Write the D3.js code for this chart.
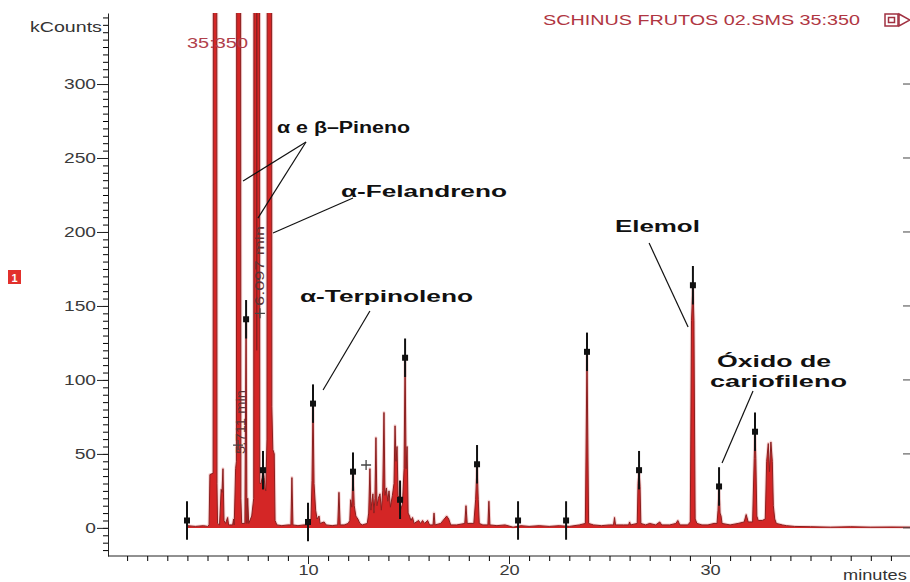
<!DOCTYPE html>
<html>
<head>
<meta charset="utf-8">
<script src="https://cdn.jsdelivr.net/npm/d3@7"></script>
<style>
  body { margin: 0; background: #fff; }
  text { font-family: "Liberation Sans", Arial, sans-serif; }
</style>
</head>
<body>
<script>
// chromatogram trace: [minutes, kCounts]
// off-scale peaks (above 348) get a big guessed apex
const trace = [
  [4.0,1.5],[4.4,1],[4.8,1.5],[5.0,1],[5.08,2],[5.12,36],[5.28,37],[5.39,3000],[5.47,30],[5.5,3],
  [5.6,2],[5.68,26],[5.72,24],[5.77,40],[5.82,5],[5.9,3],[6.0,7],[6.05,2],[6.25,2],[6.3,6],[6.33,2],
  [6.4,40],[6.44,45],[6.55,3000],[6.66,20],[6.7,3],[6.86,3],[6.92,141],[6.96,3],[7.0,20],[7.05,3],
  [7.2,8],[7.3,20],[7.38,3000],[7.45,120],[7.52,3000],[7.6,30],[7.66,30],[7.72,34],[7.76,40],
  [7.82,34],[7.86,27],[7.9,25],[7.96,60],[8.08,3000],[8.2,82],[8.25,53],[8.32,50],[8.36,5],[8.45,2],
  [8.7,1.5],[9.0,2],[9.15,2],[9.2,34],[9.25,2],[9.5,1.5],[9.8,2],[10.05,2],[10.15,6],[10.2,32],
  [10.25,84],[10.3,30],[10.38,12],[10.45,6],[10.55,8],[10.6,3],[10.8,4],[10.9,2],[11.2,1.5],
  [11.48,2],[11.54,24],[11.6,2],[11.8,2],[12.0,3],[12.08,5],[12.12,19],[12.18,14],[12.24,38],
  [12.3,15],[12.38,8],[12.48,6],[12.58,3],[12.7,2],[12.95,3],[13.02,10],[13.08,40],[13.13,12],
  [13.18,18],[13.23,23],[13.28,10],[13.33,20],[13.38,61],[13.43,15],[13.5,20],[13.58,23],[13.65,12],
  [13.72,25],[13.78,78],[13.83,22],[13.9,27],[13.97,18],[14.03,25],[14.1,14],[14.2,22],[14.28,30],
  [14.33,69],[14.38,45],[14.43,55],[14.48,22],[14.55,20],[14.6,12],[14.7,16],[14.78,40],[14.83,115],
  [14.88,40],[14.93,55],[14.98,10],[15.05,8],[15.12,5],[15.2,7],[15.28,3],[15.5,5],[15.6,3],
  [15.7,5],[15.8,3],[15.95,5],[16.05,2],[16.22,2],[16.27,10],[16.32,2],[16.6,3],[16.9,8],[17.0,6],
  [17.1,2],[17.4,2],[17.8,3],[17.86,15],[17.92,3],[18.25,3],[18.34,19],[18.41,43],[18.47,19],
  [18.52,3],[18.7,2],[18.95,2],[19.0,18],[19.05,2],[19.4,1.5],[19.8,2],[20.2,0.5],[20.6,1.5],
  [21.0,1],[21.5,1.5],[22.0,1],[22.5,1.5],[23.0,1],[23.5,2],[23.8,3],[23.88,119],[23.96,3],
  [24.2,2],[24.6,1.5],[25.0,2],[25.2,2],[25.25,7],[25.3,2],[25.7,2],[25.95,2],[26.0,4],[26.05,2],
  [26.38,3],[26.42,30],[26.47,39],[26.52,28],[26.56,3],[26.8,2],[27.0,3],[27.3,2],[27.5,4],[27.6,2],
  [28.0,2],[28.3,3],[28.4,5],[28.5,2],[28.9,2],[29.02,4],[29.08,140],[29.15,164],[29.2,140],
  [29.26,6],[29.35,3],[29.6,2],[29.9,2],[30.2,3],[30.35,3],[30.4,12],[30.45,28],[30.5,10],
  [30.55,8],[30.6,3],[31.0,2],[31.4,3],[31.7,4],[31.8,9],[31.9,4],[32.12,4],[32.2,47],[32.24,65],
  [32.28,47],[32.33,8],[32.4,5],[32.6,5],[32.75,6],[32.82,45],[32.9,57],[32.96,38],[33.03,58],
  [33.1,45],[33.15,15],[33.22,6],[33.3,3],[33.6,2],[33.8,1.5],[34.2,1],[35,0.8],[36,0.5],
  [37,0.8],[38,0.5],[39,0.6],[40,0.5]
];

// identified peaks (black square + error bar)
const markerTimes  = [3.98, 6.92, 7.76, 10.0, 10.25, 12.24, 14.58, 14.83, 18.41, 20.45, 22.84, 23.88, 26.47, 29.15, 30.45, 32.24];
const markerCounts = [5, 141, 39, 4, 84, 38, 19, 115, 43, 5, 5, 119, 39, 164, 28, 65];

// crosshair marks
const crossTimes  = [6.52, 7.61, 12.89];
const crossCounts = [56, 145, 42.5];

// rotated retention-time labels
const rtLabels = ["5.711 min", "6.097 min"];

const yMajor = [0, 50, 100, 150, 200, 250, 300];
const xMajor = [10, 20, 30];

// compound labels
const compounds = ["α e β–Pineno", "α-Felandreno", "α-Terpinoleno", "Elemol", "Óxido de", "cariofileno"];

const svg = d3.select("body").append("svg")
    .attr("width", 910)
    .attr("height", 582);

const x = d3.scaleLinear().domain([0, 40]).range([107, 911]);
const y = d3.scaleLinear().domain([-19, 348]).range([556, 13]);

// stretch text horizontally like the picture (it was widened)
function stretch(sel, k) {
  sel.each(function () {
    const w = this.getComputedTextLength();
    d3.select(this).attr("textLength", w * k).attr("lengthAdjust", "spacingAndGlyphs");
  });
}

svg.append("clipPath").attr("id", "plot")
  .append("rect").attr("x", 108).attr("y", 13).attr("width", 803).attr("height", 543);

const plot = svg.append("g").attr("clip-path", "url(#plot)");

const line = d3.line().x(d => x(d[0])).y(d => y(d[1]));
const area = d3.area().x(d => x(d[0])).y0(y(0)).y1(d => y(d[1]));

// pale halo
plot.append("path")
    .attr("d", line(trace))
    .attr("fill", "none")
    .attr("stroke", "#f6d2d2")
    .attr("stroke-width", 3)
    .attr("stroke-linejoin", "round");

plot.append("path")
    .attr("d", area(trace))
    .attr("fill", "#d42626");

plot.append("path")
    .attr("d", line(trace))
    .attr("fill", "none")
    .attr("stroke", "#8a1f1f")
    .attr("stroke-width", 1);

// error bars + squares
markerTimes.forEach((t, i) => {
  plot.append("line")
      .attr("x1", x(t)).attr("x2", x(t))
      .attr("y1", y(markerCounts[i] - 13)).attr("y2", y(markerCounts[i] + 13))
      .attr("stroke", "#111").attr("stroke-width", 2);
  plot.append("rect")
      .attr("x", x(t) - 3).attr("y", y(markerCounts[i]) - 3)
      .attr("width", 6).attr("height", 6)
      .attr("fill", "#111");
});

crossTimes.forEach((t, i) => {
  const cx = x(t), cy = y(crossCounts[i]);
  plot.append("path")
      .attr("d", `M${cx - 5},${cy}H${cx + 5}M${cx},${cy - 5}V${cy + 5}`)
      .attr("stroke", "#444").attr("stroke-width", 1.3);
});

// rotated retention times next to the first two crosshairs
[[x(6.85), y(50), 64], [x(7.81), y(150), 80]].forEach((p, i) => {
  plot.append("text")
      .attr("transform", `translate(${p[0]},${p[1]}) rotate(-90)`)
      .attr("font-size", 12)
      .attr("fill", "#5a3434")
      .attr("textLength", p[2])
      .attr("lengthAdjust", "spacingAndGlyphs")
      .text(rtLabels[i]);
});

// y axis
svg.append("g")
    .attr("transform", "translate(108,0)")
    .call(d3.axisLeft(y).tickValues(d3.range(-15, 346, 5)).tickSize(5).tickSizeOuter(0).tickFormat(""))
    .call(g => g.select(".domain").attr("stroke", "#222"));

const yAx = svg.append("g")
    .attr("transform", "translate(108,0)")
    .call(d3.axisLeft(y).tickValues(yMajor).tickSize(11).tickSizeOuter(0).tickPadding(1));
yAx.select(".domain").remove();
yAx.selectAll("line").attr("stroke", "#222");
yAx.selectAll("text").attr("font-size", 14).attr("fill", "#3a3a3a")
    .attr("font-family", "Liberation Sans, Arial, sans-serif");
stretch(yAx.selectAll("text"), 1.37);

// right side ticks
svg.append("g").selectAll("line")
    .data(yMajor).join("line")
    .attr("x1", 903).attr("x2", 910)
    .attr("y1", d => y(d)).attr("y2", d => y(d))
    .attr("stroke", "#444");

// x axis
svg.append("g")
    .attr("transform", "translate(0,556)")
    .call(d3.axisBottom(x).tickValues(d3.range(1, 40)).tickSize(5).tickSizeOuter(0).tickFormat(""))
    .call(g => g.select(".domain").attr("stroke", "#222").attr("d", "M108,0H910"));

const xAx = svg.append("g")
    .attr("transform", "translate(0,556)")
    .call(d3.axisBottom(x).tickValues(xMajor).tickSize(8).tickSizeOuter(0).tickPadding(1));
xAx.select(".domain").remove();
xAx.selectAll("line").attr("stroke", "#222");
xAx.selectAll("text").attr("font-size", 14).attr("fill", "#3a3a3a")
    .attr("font-family", "Liberation Sans, Arial, sans-serif");
stretch(xAx.selectAll("text"), 1.3);

stretch(svg.append("text").attr("x", 843).attr("y", 580)
    .attr("font-size", 14).attr("fill", "#333").text("minutes"), 1.3);

stretch(svg.append("text").attr("x", 30).attr("y", 32)
    .attr("font-size", 14).attr("fill", "#333").text("kCounts"), 1.4);

// header
svg.append("text").attr("x", 543).attr("y", 25)
    .attr("font-size", 14).attr("fill", "#b03642")
    .attr("textLength", 317).attr("lengthAdjust", "spacingAndGlyphs")
    .text("SCHINUS FRUTOS 02.SMS 35:350");

svg.append("text").attr("x", 187).attr("y", 48)
    .attr("font-size", 14).attr("fill", "#b0404c")
    .attr("textLength", 61).attr("lengthAdjust", "spacingAndGlyphs")
    .text("35:350");

const icon = svg.append("g").attr("fill", "none").attr("stroke", "#a03040").attr("stroke-width", 1.5);
icon.append("rect").attr("x", 885).attr("y", 14).attr("width", 13).attr("height", 12);
icon.append("rect").attr("x", 888.5).attr("y", 17.5).attr("width", 6).attr("height", 5);
icon.append("path").attr("d", "M899,14L910,20L899,26Z");

// little red "1" box
svg.append("rect").attr("x", 8).attr("y", 270).attr("width", 13).attr("height", 14).attr("fill", "#e2302c");
svg.append("text").attr("x", 14.5).attr("y", 281.5).attr("text-anchor", "middle")
    .attr("font-size", 11).attr("font-weight", "bold").attr("fill", "#fff").text("1");

// compound annotations, positioned in data units
const notes = [
  {t: 8.46, v: 267, w: 133, lines: [[9.9, 260.8, 6.77, 234.4], [9.9, 260.8, 7.51, 209.4]]},
  {t: 11.64, v: 223.6, w: 166, lines: [[12.24, 223, 8.26, 199.3]]},
  {t: 9.6, v: 152.7, w: 173, lines: [[13.08, 146.6, 10.75, 93.2]]},
  {t: 25.27, v: 200, w: 85, lines: [[26.97, 192.5, 28.91, 135.8]]},
  {t: 30.35, v: 108.7, w: 114, lines: []},
  {t: 30.0, v: 95.2, w: 137, lines: [[32.14, 92.5, 30.6, 43.9]]}
];

notes.forEach((n, i) => {
  svg.append("text")
      .attr("x", x(n.t)).attr("y", y(n.v))
      .attr("font-size", 16).attr("font-weight", "bold").attr("fill", "#111")
      .attr("textLength", n.w).attr("lengthAdjust", "spacingAndGlyphs")
      .text(compounds[i]);
  n.lines.forEach(l => {
    svg.append("line")
        .attr("x1", x(l[0])).attr("y1", y(l[1]))
        .attr("x2", x(l[2])).attr("y2", y(l[3]))
        .attr("stroke", "#111").attr("stroke-width", 1.2);
  });
});
</script>
</body>
</html>
